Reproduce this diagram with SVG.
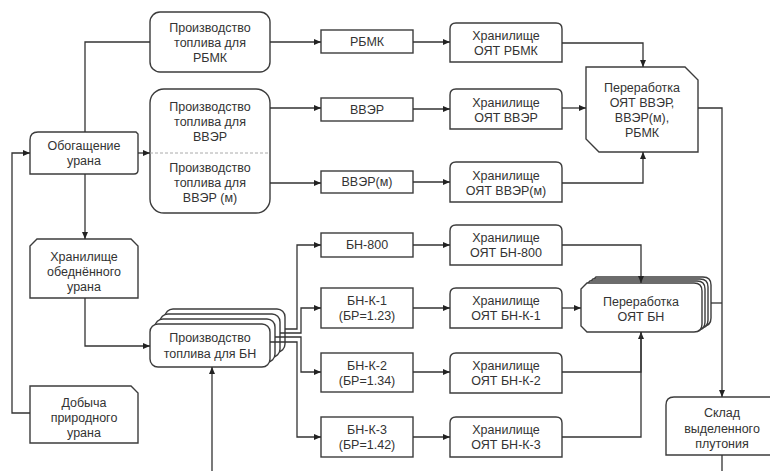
<svg xmlns="http://www.w3.org/2000/svg" width="770" height="471" viewBox="0 0 770 471">
<style>
.b{fill:#fff;stroke:#3c3c3c;stroke-width:1.4}
.c{fill:none;stroke:#333;stroke-width:1.3}
.d{fill:none;stroke:#aaa;stroke-width:1;stroke-dasharray:3 2}
text{font-family:"Liberation Sans",Arial,sans-serif;font-size:12.5px;fill:#333;text-anchor:middle}
</style>
<defs>
<marker id="a" markerWidth="7" markerHeight="6" refX="7" refY="3" orient="auto" markerUnits="userSpaceOnUse">
<path d="M0,0 L7,3 L0,6 Z" fill="#222"/>
</marker>
</defs>
<rect width="770" height="471" fill="#fff"/>
<g id="n-obogashenie">
<path class="b" d="M38,132 H136 L138,134 V170 Q138,174 134,174 H30 V140 Q30,132 38,132 Z"/>
<text x="84" y="150">Обогащение</text>
<text x="84" y="165">урана</text>
</g>
<g id="n-hran-obedn">
<path class="b" d="M37,239 H131 L138,246 V298 H30 V246 Z"/>
<text x="84" y="261">Хранилище</text>
<text x="84" y="276">обеднённого</text>
<text x="84" y="291">урана</text>
</g>
<g id="n-dobycha">
<path class="b" d="M30,386 H131 L138,393 V443 H30 Z"/>
<text x="84" y="407">Добыча</text>
<text x="84" y="422">природного</text>
<text x="84" y="437">урана</text>
</g>
<g id="n-proizv-rbmk">
<rect class="b" x="150" y="12" width="120" height="60" rx="10"/>
<text x="210" y="32">Производство</text>
<text x="210" y="47">топлива для</text>
<text x="210" y="62">РБМК</text>
</g>
<g id="n-proizv-vver">
<rect class="b" x="150" y="89" width="120" height="124" rx="14"/>
<line class="d" x1="150" y1="153" x2="270" y2="153"/>
<text x="210" y="111">Производство</text>
<text x="210" y="126">топлива для</text>
<text x="210" y="141">ВВЭР</text>
<text x="210" y="172">Производство</text>
<text x="210" y="187">топлива для</text>
<text x="210" y="202">ВВЭР (м)</text>
</g>
<g id="n-proizv-bn">
<rect class="b" x="165" y="309" width="120" height="43" rx="8"/>
<rect class="b" x="160" y="314" width="120" height="43" rx="8"/>
<rect class="b" x="155" y="319" width="120" height="43" rx="8"/>
<rect class="b" x="150" y="324" width="120" height="43" rx="8"/>
<text x="210" y="342">Производство</text>
<text x="210" y="358">топлива для БН</text>
</g>
<g id="n-rbmk">
<rect class="b" x="321" y="30" width="92" height="23"/>
<text x="367" y="46">РБМК</text>
</g>
<g id="n-vver">
<rect class="b" x="321" y="98" width="92" height="23"/>
<text x="367" y="114">ВВЭР</text>
</g>
<g id="n-vverm">
<rect class="b" x="321" y="171" width="92" height="22"/>
<text x="367" y="186">ВВЭР(м)</text>
</g>
<g id="n-bn800">
<rect class="b" x="321" y="233" width="92" height="24"/>
<text x="367" y="249">БН-800</text>
</g>
<g id="n-bnk1">
<rect class="b" x="321" y="288" width="92" height="40"/>
<text x="367" y="305">БН-К-1</text>
<text x="367" y="320">(БР=1.23)</text>
</g>
<g id="n-bnk2">
<rect class="b" x="321" y="353" width="92" height="39"/>
<text x="367" y="370">БН-К-2</text>
<text x="367" y="385">(БР=1.34)</text>
</g>
<g id="n-bnk3">
<rect class="b" x="321" y="417" width="92" height="40"/>
<text x="367" y="434">БН-К-3</text>
<text x="367" y="449">(БР=1.42)</text>
</g>
<g id="n-hran-rbmk">
<path class="b" d="M450,62 V29 Q450,23 456,23 H556 Q562,23 562,29 V62 Z"/>
<text x="506" y="40">Хранилище</text>
<text x="506" y="55">ОЯТ РБМК</text>
</g>
<g id="n-hran-vver">
<path class="b" d="M450,129 V95 Q450,89 456,89 H556 Q562,89 562,95 V129 Z"/>
<text x="506" y="107">Хранилище</text>
<text x="506" y="122">ОЯТ ВВЭР</text>
</g>
<g id="n-hran-vverm">
<path class="b" d="M450,202 V168 Q450,162 456,162 H556 Q562,162 562,168 V202 Z"/>
<text x="506" y="180">Хранилище</text>
<text x="506" y="195">ОЯТ ВВЭР(м)</text>
</g>
<g id="n-hran-bn800">
<path class="b" d="M450,265 V231 Q450,225 456,225 H556 Q562,225 562,231 V265 Z"/>
<text x="506" y="242">Хранилище</text>
<text x="506" y="257">ОЯТ БН-800</text>
</g>
<g id="n-hran-bnk1">
<path class="b" d="M450,328 V294 Q450,288 456,288 H556 Q562,288 562,294 V328 Z"/>
<text x="506" y="305">Хранилище</text>
<text x="506" y="320">ОЯТ БН-К-1</text>
</g>
<g id="n-hran-bnk2">
<path class="b" d="M450,393 V359 Q450,353 456,353 H556 Q562,353 562,359 V393 Z"/>
<text x="506" y="370">Хранилище</text>
<text x="506" y="385">ОЯТ БН-К-2</text>
</g>
<g id="n-hran-bnk3">
<path class="b" d="M450,457 V423 Q450,417 456,417 H556 Q562,417 562,423 V457 Z"/>
<text x="506" y="434">Хранилище</text>
<text x="506" y="449">ОЯТ БН-К-3</text>
</g>
<g id="n-pererab-vver">
<path class="b" d="M586,67 H685 L698,80 V152 H599 L586,139 Z"/>
<text x="642" y="92">Переработка</text>
<text x="642" y="107">ОЯТ ВВЭР,</text>
<text x="642" y="122">ВВЭР(м),</text>
<text x="642" y="137">РБМК</text>
</g>
<g id="n-pererab-bn">
<path class="b" d="M596,277 H703 Q711,277 711,285 V318 Q711,326 703,326 H596 L590,320 V283 Z"/>
<path class="b" d="M593,279 H700 Q708,279 708,287 V320 Q708,328 700,328 H593 L587,322 V285 Z"/>
<path class="b" d="M590,281 H697 Q705,281 705,289 V322 Q705,330 697,330 H590 L584,324 V287 Z"/>
<path class="b" d="M587,283 H694 Q702,283 702,291 V324 Q702,332 694,332 H587 L581,326 V289 Z"/>
<text x="641" y="306">Переработка</text>
<text x="641" y="321">ОЯТ БН</text>
</g>
<g id="n-sklad">
<path class="b" d="M666,455 V405 Q666,397 674,397 H778 V455 Z"/>
<text x="722" y="417">Склад</text>
<text x="722" y="433">выделенного</text>
<text x="722" y="448">плутония</text>
</g>
<g id="connectors">
<path class="c" d="M30,413 H12 V153 H30" marker-end="url(#a)"/>
<path class="c" d="M138,153 H150" marker-end="url(#a)"/>
<path class="c" d="M85,132 V42 H150"/>
<path class="c" d="M85,174 V239" marker-end="url(#a)"/>
<path class="c" d="M85,298 V346 H150" marker-end="url(#a)"/>
<path class="c" d="M270,42 H321" marker-end="url(#a)"/>
<path class="c" d="M413,42 H450" marker-end="url(#a)"/>
<path class="c" d="M270,108 H321" marker-end="url(#a)"/>
<path class="c" d="M413,109 H450" marker-end="url(#a)"/>
<path class="c" d="M270,183 H321" marker-end="url(#a)"/>
<path class="c" d="M413,182 H450" marker-end="url(#a)"/>
<path class="c" d="M562,43 H643 V67" marker-end="url(#a)"/>
<path class="c" d="M562,108 H586" marker-end="url(#a)"/>
<path class="c" d="M562,183 H643 V152" marker-end="url(#a)"/>
<path class="c" d="M698,108 H722 V397" marker-end="url(#a)"/>
<path class="c" d="M711,303 H722"/>
<path class="c" d="M285,329 H297 V245 H321" marker-end="url(#a)"/>
<path class="c" d="M280,333 H301 V308 H321" marker-end="url(#a)"/>
<path class="c" d="M275,337 H301 V372 H321" marker-end="url(#a)"/>
<path class="c" d="M270,342 H297 V437 H321" marker-end="url(#a)"/>
<path class="c" d="M413,245 H450" marker-end="url(#a)"/>
<path class="c" d="M413,308 H450" marker-end="url(#a)"/>
<path class="c" d="M413,372 H450" marker-end="url(#a)"/>
<path class="c" d="M413,437 H450" marker-end="url(#a)"/>
<path class="c" d="M562,245 H641 V283" marker-end="url(#a)"/>
<path class="c" d="M562,308 H581" marker-end="url(#a)"/>
<path class="c" d="M562,372 H641 V332" marker-end="url(#a)"/>
<path class="c" d="M562,437 H641 V332"/>
<path class="c" d="M722,455 V476 H212 V367" marker-end="url(#a)"/>
</g>
</svg>
